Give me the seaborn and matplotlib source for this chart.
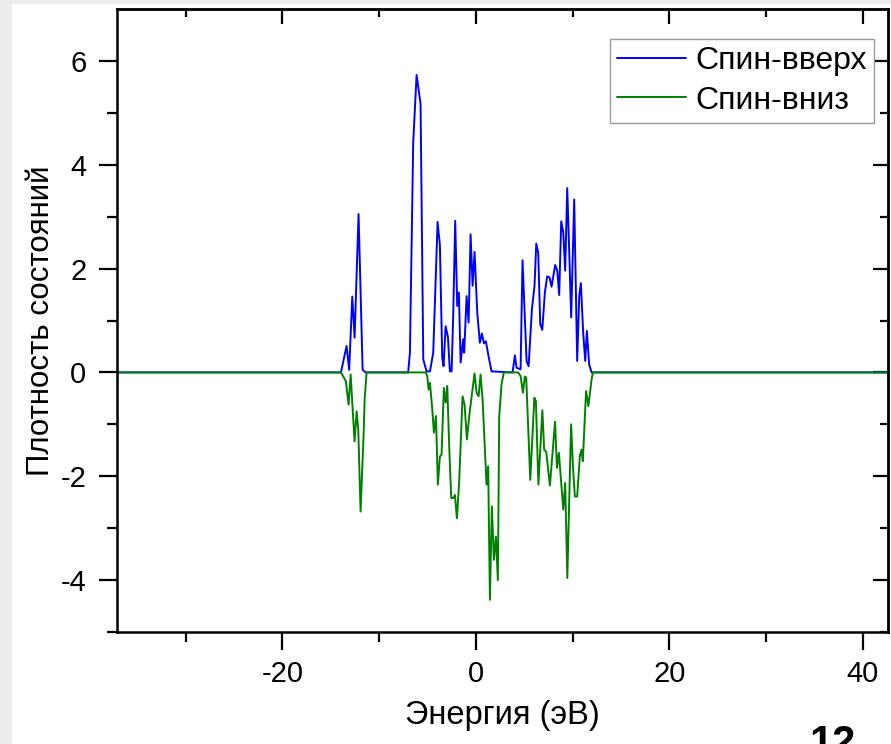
import matplotlib
matplotlib.use("Agg")
import matplotlib.pyplot as plt
from matplotlib.patches import Rectangle
import seaborn as sns

# энергия (эВ) и плотность состояний
energy_up = [-37.1, -13.95, -13.37, -13.1, -12.78, -12.54, -12.13, -11.71, -11.4,
             -7.0, -6.82, -6.48, -6.13, -5.72, -5.44, -5.1, -4.75, -4.41, -3.96,
             -3.72, -3.48, -3.34, -3.13, -2.89, -2.69, -2.51, -2.34, -2.14, -1.93,
             -1.76, -1.58, -1.31, -1.21, -0.96, -0.75, -0.55, -0.34, -0.14, 0.14,
             0.41, 0.62, 0.83, 1.03, 1.31, 1.62, 3.79, 4.03, 4.2, 4.62, 4.82, 5.24,
             5.45, 5.79, 6.06, 6.24, 6.44, 6.65, 6.86, 7.13, 7.37, 7.61, 7.82, 8.2,
             8.41, 8.61, 8.82, 9.03, 9.23, 9.44, 9.65, 9.85, 10.16, 10.47, 10.68,
             10.85, 11.09, 11.3, 11.47, 11.71, 11.96, 42.6]
dos_up = [0, 0, 0.51, 0.05, 1.46, 0.67, 3.05, 0.05, 0,
          0, 0.38, 4.43, 5.73, 5.17, 0.25, 0.02, 0.02, 0.38, 2.9,
          2.44, 0.28, 0.12, 0.89, 0.68, 0.02, 0.02, 1.15, 2.92, 1.28,
          1.54, 0.19, 0.64, 0.38, 1.47, 0.96, 2.66, 1.67, 2.32, 1.15,
          0.57, 0.75, 0.56, 0.6, 0.31, 0.02, 0, 0.33, 0.09, 0.06, 2.16, 0.22,
          0.12, 1.22, 1.67, 2.48, 2.31, 0.93, 0.82, 1.54, 1.85, 1.83, 1.65, 2.07,
          1.96, 1.49, 2.91, 2.7, 1.96, 3.55, 2.31, 1.06, 3.33, 0.22, 1.47,
          1.72, 0.77, 0.22, 0.8, 0.15, 0, 0]

energy_down = [-37.1, -13.95, -13.44, -13.16, -12.95, -12.54, -12.33, -12.16, -11.92,
               -11.6, -11.5, -11.3, -5.17, -5.03, -4.89, -4.75, -4.51, -4.34, -4.13,
               -3.93, -3.72, -3.55, -3.31, -3.13, -2.96, -2.76, -2.55, -2.34, -2.17,
               -1.96, -1.72, -1.38, -1.17, -0.93, -0.69, -0.41, -0.14, 0.07, 0.28,
               0.48, 0.69, 0.9, 1.1, 1.27, 1.45, 1.65, 1.86, 2.07, 2.27, 2.41, 2.65,
               2.89, 4.37, 4.62, 4.86, 5.06, 5.2, 5.62, 6.04, 6.2, 6.46, 6.87, 7.06,
               7.27, 7.65, 8.18, 8.38, 8.58, 9.03, 9.23, 9.45, 9.84, 10.03, 10.23,
               10.47, 10.75, 10.92, 11.05, 11.39, 11.63, 11.96, 12.1, 42.6]
dos_down = [0, 0, -0.17, -0.62, -0.04, -1.33, -0.75, -1.1, -2.68,
            -1.16, -0.52, 0, 0, -0.07, -0.33, -0.2, -0.71, -1.16, -0.84,
            -2.16, -1.62, -1.58, -0.3, -0.58, -0.26, -1.42, -2.42, -2.42, -2.36,
            -2.81, -2.07, -0.46, -0.62, -1.29, -0.84, -0.42, -0.02, -0.39, -0.46,
            -0.04, -0.52, -1.36, -2.16, -1.81, -4.38, -2.58, -3.61, -3.16, -4.0, -0.85, -0.23,
            0, 0, -0.07, -0.39, -0.08, -0.1, -2.07, -0.49, -0.55, -2.16, -0.73, -1.49,
            -1.53, -2.18, -0.95, -1.84, -1.55, -2.64, -2.13, -3.96, -1.0, -1.8, -2.39,
            -2.39, -1.6, -1.49, -1.71, -0.36, -0.65, -0.13, 0, 0]

x_ticks = [-20, 0, 20, 40]
x_minor = [-30, -10, 10, 30]
y_ticks = [-4, -2, 0, 2, 4, 6]
y_minor = [-5, -3, -1, 1, 3, 5]

sns.set_style("white")
plt.rcParams["font.family"] = ["Liberation Sans", "DejaVu Sans"]
plt.rcParams["text.color"] = "black"
plt.rcParams["axes.labelcolor"] = "black"
plt.rcParams["axes.unicode_minus"] = False
FS = 21        # подписи делений
LFS = 23       # подписи осей и легенда

fig = plt.figure(figsize=(8.91, 7.44), dpi=100, facecolor="#ececec")
fig.add_artist(Rectangle((12 / 891, 0), 1, 1 - 4 / 744, transform=fig.transFigure,
                         facecolor="white", edgecolor="none", zorder=-10))
ax = fig.add_axes([117 / 891, 1 - 632 / 744, 771 / 891, 623 / 744])

sns.lineplot(x=energy_up, y=dos_up, color="#0000ff", linewidth=1.4, sort=False,
             estimator=None, label="Спин-вверх", ax=ax)
sns.lineplot(x=energy_down, y=dos_down, color="#008000", linewidth=1.4, sort=False,
             estimator=None, label="Спин-вниз", ax=ax)

ax.set_xlim(-37.1, 42.6)
ax.set_ylim(-5, 7)
ax.set_xticks(x_ticks)
ax.set_yticks(y_ticks)
ax.set_xticks(x_minor, minor=True)
ax.set_yticks(y_minor, minor=True)

for s in ax.spines.values():
    s.set_linewidth(1.8)
    s.set_color("black")
    s.set_visible(True)

ax.tick_params(which="both", bottom=True, left=True, top=False, right=False,
               direction="out", width=1.6, color="black", labelcolor="black")
ax.tick_params(which="major", length=13, labelsize=FS)
ax.tick_params(which="minor", length=7)
ax.tick_params(axis="y", which="major", pad=9)
ax.tick_params(axis="x", which="major", pad=7)

# верх и право: засечки внутрь, без подписей
top = ax.secondary_xaxis("top")
top.set_xticks(x_ticks)
top.set_xticks(x_minor, minor=True)
top.tick_params(which="both", top=True, direction="in", labeltop=False, width=1.6,
                color="black")
top.tick_params(which="major", length=11)
top.tick_params(which="minor", length=6)
top.spines["top"].set_linewidth(1.8)
right = ax.secondary_yaxis("right")
right.set_yticks(y_ticks)
right.set_yticks(y_minor, minor=True)
right.tick_params(which="both", right=True, direction="in", labelright=False,
                  width=1.6, color="black")
right.tick_params(which="major", length=11)
right.tick_params(which="minor", length=6)
right.spines["right"].set_linewidth(1.8)

ax.set_xlabel("Энергия (эВ)", fontsize=23.5, labelpad=9)
ax.set_ylabel("Плотность состояний", fontsize=22.5, labelpad=3)

leg = ax.legend(loc="upper right", bbox_to_anchor=(0.982, 0.952), borderaxespad=0,
                fontsize=LFS, frameon=True, fancybox=False, framealpha=1,
                edgecolor="#999999", handlelength=2.15, handletextpad=0.3,
                labelspacing=0.3, borderpad=0.22)
leg.get_frame().set_linewidth(1.0)
for t in leg.get_texts():
    t.set_color("black")

fig.text(833 / 891, 1 - 724 / 744, "12", fontsize=30, fontweight="bold",
         ha="center", va="top")

fig.savefig("out.png", dpi=100, facecolor=fig.get_facecolor())
